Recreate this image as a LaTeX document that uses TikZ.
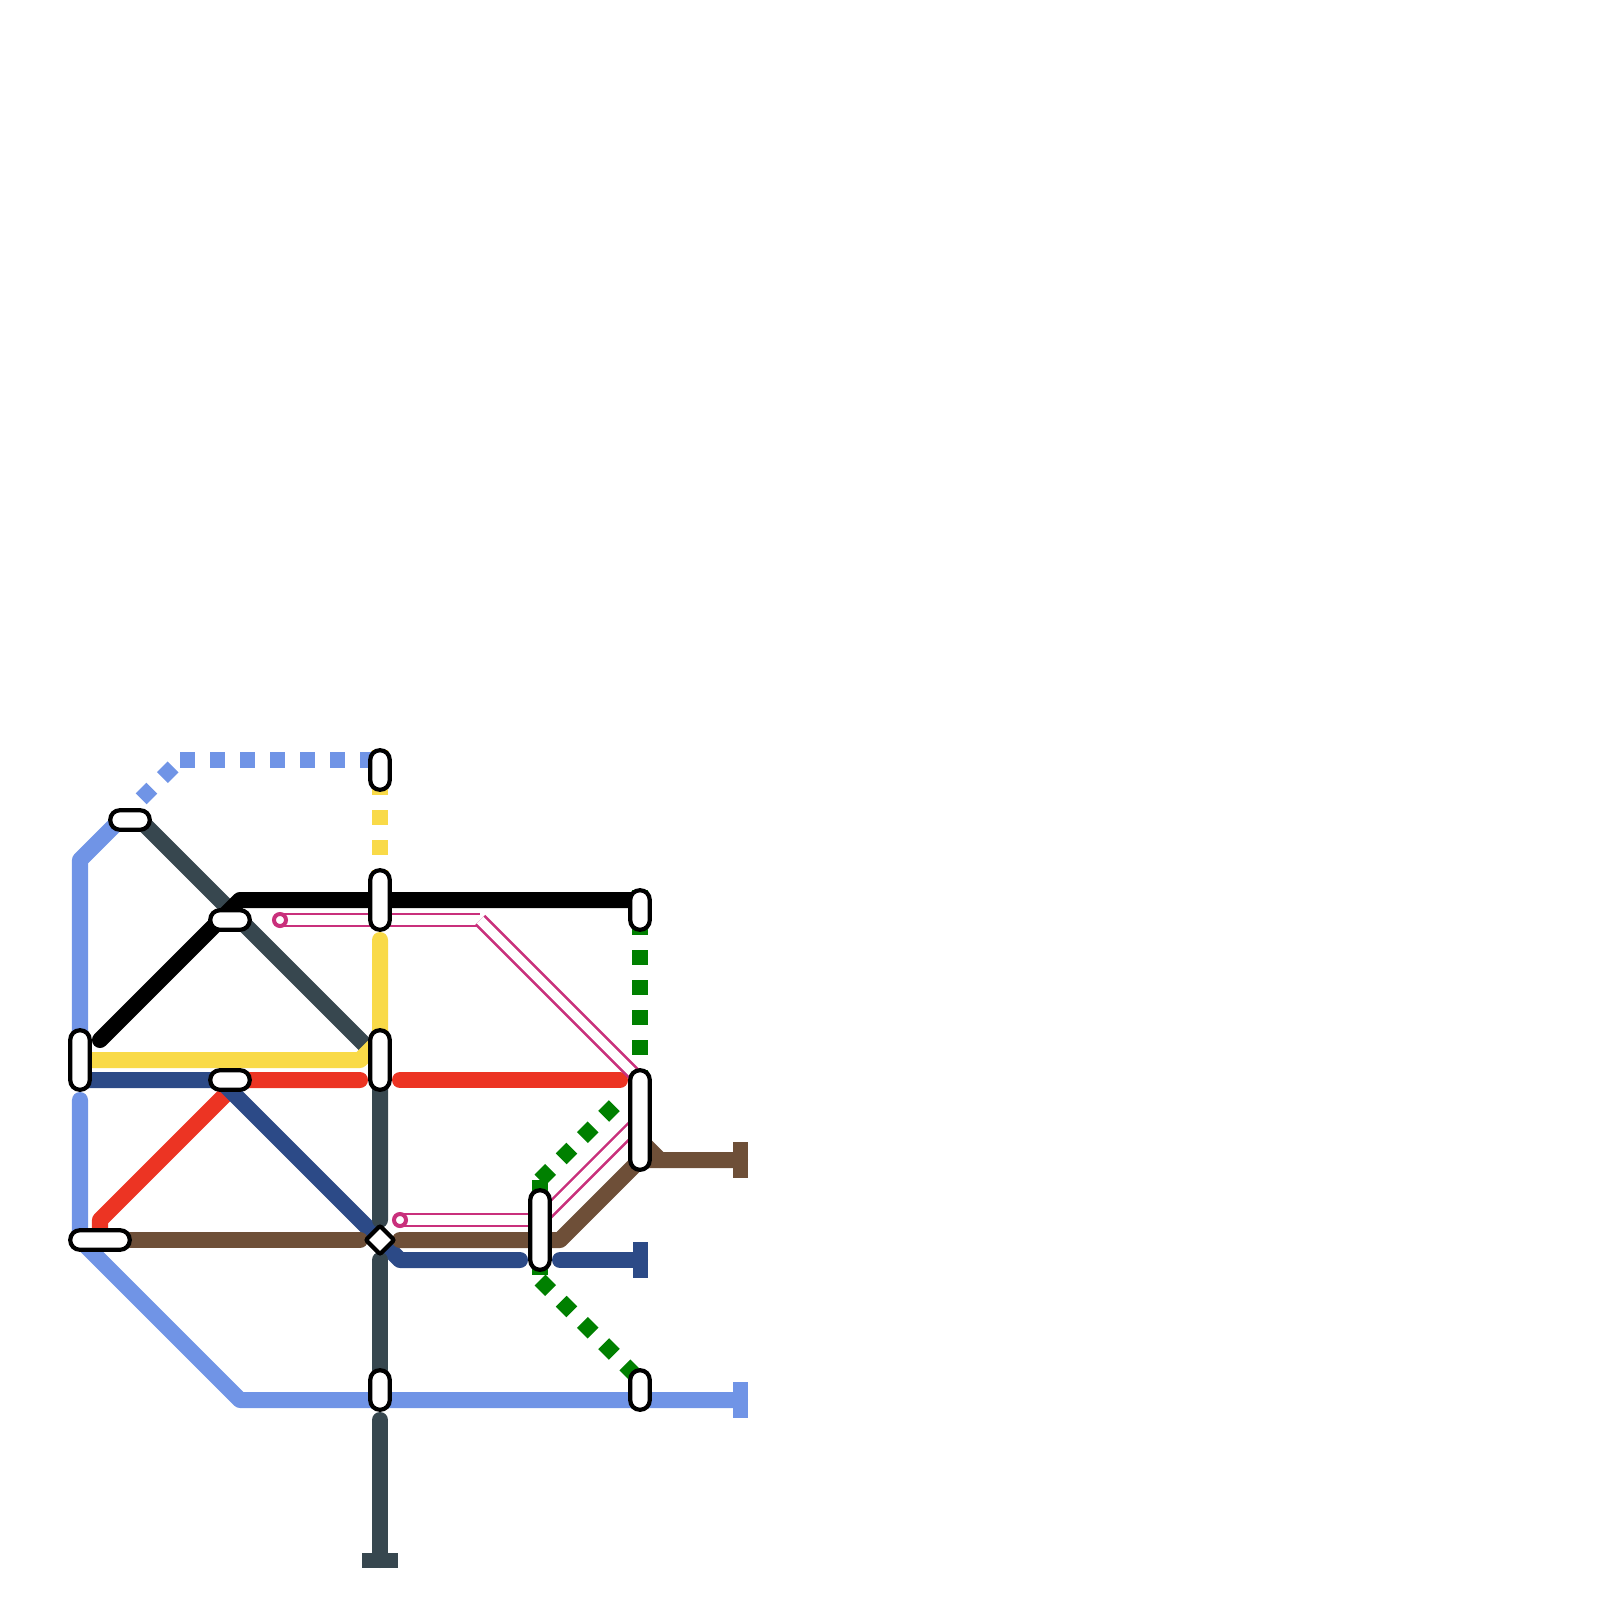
\documentclass[tikz,border=0pt]{standalone}
\usepackage{tikz}
\usetikzlibrary{backgrounds}
\definecolor{MapSky}{HTML}{7094E6}
\definecolor{MapSlate}{HTML}{37474F}
\definecolor{MapYellow}{HTML}{F9DA48}
\definecolor{MapNavy}{HTML}{2C4A87}
\definecolor{MapRed}{HTML}{EC3423}
\definecolor{MapBrown}{HTML}{6E4F38}
\definecolor{MapGreen}{HTML}{008000}
\definecolor{MapPink}{HTML}{C9307C}
\tikzset{
  route/.style={line width=1.6mm, line cap=round, line join=round},
  broken/.style={line width=1.55mm, line cap=butt, dash pattern=on 1.5mm off 1.5mm},
  twin/.style={line width=0.25mm, draw=MapPink, double=white, double distance=0.95mm, line cap=butt},
  halt/.style={rectangle, draw=black, fill=white, line width=0.42mm, inner sep=0pt,
               rounded corners=0.96mm},
  upright/.style={halt, minimum width=1.95mm, minimum height=#1-0.05mm},
  flat/.style={halt, minimum height=1.95mm, minimum width=#1-0.05mm},
  crossing/.style={halt, rotate=45, minimum size=2mm, rounded corners=0.2mm},
  stub/.style={circle, draw=MapPink, fill=white, line width=0.4mm, inner sep=0pt, minimum size=1.2mm},
  tee/.style={rectangle, fill=#1, inner sep=0pt, minimum width=1.5mm, minimum height=3.6mm},
  teeflat/.style={rectangle, fill=#1, inner sep=0pt, minimum width=3.6mm, minimum height=1.5mm},
}
\begin{document}
\begin{tikzpicture}[x=0.01cm,y=-0.01cm]
    \useasboundingbox (0,0) rectangle (1600,1600);
    \node[upright=4mm] (north) at (380,770) {};
    \node[flat=4mm] (fork) at (130,820) {};
    \node[upright=6mm] (upper) at (380,900) {};
    \node[flat=4mm] (cross) at (230,920) {};
    \node[upright=4mm] (east) at (640,910) {};
    \node[upright=6mm] (west) at (80,1060) {};
    \node[upright=6mm] (central) at (380,1060) {};
    \node[flat=4mm] (mid) at (230,1080) {};
    \node[upright=10mm] (hub) at (640,1120) {};
    \node[upright=8mm] (link) at (540,1230) {};
    \node[flat=6mm] (south) at (100,1240) {};
    \node[crossing] (square) at (380,1240) {};
    \node[upright=4mm] (lowmid) at (380,1390) {};
    \node[upright=4mm] (loweast) at (640,1390) {};
    \node[stub] (stubup) at (280,920) {};
    \node[stub] (stubdown) at (400,1220) {};
    \node[tee=MapSky] (skyend) at (740,1400) {};
    \node[tee=MapBrown] (brownend) at (740,1160) {};
    \node[tee=MapNavy] (navyend) at (640,1260) {};
    \node[teeflat=MapSlate] (slateend) at (380,1560) {};

    \coordinate (skyA) at (80,860);
    \coordinate (skyB) at (115,825);
    \coordinate (skyC) at (180,760);
    \coordinate (skyD) at (80,1100);
    \coordinate (skyE) at (80,1240);
    \coordinate (skyF) at (240,1400);
    \coordinate (skyG) at (141.2,798.8);
    \coordinate (skyH) at (380,760);
    \coordinate (slateA) at (140,820);
    \coordinate (slateB) at (380,1220);
    \coordinate (slateC) at (380,1260);
    \coordinate (slateD) at (380,1380);
    \coordinate (slateE) at (380,1420);
    \coordinate (yellowA) at (360,1060);
    \coordinate (yellowB) at (380,1040);
    \coordinate (yellowC) at (380,940);
    \coordinate (yellowD) at (380,750);
    \coordinate (blackA) at (100,1040);
    \coordinate (blackB) at (240,900);
    \coordinate (blackC) at (640,900);
    \coordinate (redA) at (100,1220);
    \coordinate (redB) at (240,1080);
    \coordinate (redC) at (360,1080);
    \coordinate (redD) at (400,1080);
    \coordinate (redE) at (620,1080);
    \coordinate (navyA) at (220,1080);
    \coordinate (navyB) at (400,1260);
    \coordinate (navyC) at (520,1260);
    \coordinate (navyD) at (560,1260);
    \coordinate (brownA) at (360,1240);
    \coordinate (brownB) at (400,1240);
    \coordinate (brownC) at (560,1240);
    \coordinate (brownD) at (640,1160);
    \coordinate (brownE) at (640,1140);
    \coordinate (brownF) at (660,1160);
    \coordinate (greenA) at (640,890);
    \coordinate (greenB) at (620,1100);
    \coordinate (greenC) at (540,1180);
    \coordinate (greenD) at (540,1280);
    \coordinate (greenE) at (640,1380);
    \coordinate (pinkA) at (480,920);
    \coordinate (pinkB) at (640,1080);
    \coordinate (pinkC) at (540,1220);
    \coordinate (pinkD) at (640,1120);

    \begin{scope}[on background layer]
      \draw[broken,MapGreen] (greenA) -- (hub.center);
      \draw[broken,MapGreen] (greenC) -- (greenB);
      \draw[broken,MapGreen] (greenC) -- (link.center);
      \draw[broken,MapGreen] (link.center) -- (greenD);
      \draw[broken,MapGreen] (greenD) -- (greenE);
      \draw[route,MapSky] (west.center) -- (skyA) -- (skyB);
      \draw[broken,MapSky] (skyG) -- (skyC);
      \draw[broken,MapSky] (skyC) -- (skyH);
      \draw[route,MapSky] (skyD) -- (skyE) -- (skyF) -- (skyend.center);
      \draw[route,MapRed] (south.center) -- (redA) -- (redB) -- (redC);
      \draw[route,MapRed] (redD) -- (redE);
      \draw[route,MapNavy] (west.center |- mid.center) -- (navyA) -- (navyB) -- (navyC);
      \draw[route,MapNavy] (navyD) -- (navyend.center);
      \draw[route,MapBrown] (south.center) -- (brownA);
      \draw[route,MapBrown] (brownB) -- (brownC) -- (brownD) -- (brownend.center);
      \draw[route,MapBrown] (brownD) -- (brownE) -- (brownF);
      \draw[route,MapSlate] (slateA) -- (central.center) -- (slateB);
      \draw[route,MapSlate] (slateC) -- (slateD);
      \draw[route,MapSlate] (slateE) -- (slateend.center);
      \draw[route,MapYellow] (west.center) -- (yellowA) -- (yellowB) -- (yellowC);
      \draw[broken,MapYellow] (yellowD) -- (upper.center);
      \draw[route,black] (blackA) -- (blackB) -- (blackC);
      \draw[twin] (stubup.center) -- (pinkA);
      \draw[twin] (pinkA) -- (pinkB);
      \draw[twin] (stubdown.center) -- (pinkC);
      \draw[twin] (pinkC) -- (pinkD);
    \end{scope}
  \end{tikzpicture}
\end{document}
